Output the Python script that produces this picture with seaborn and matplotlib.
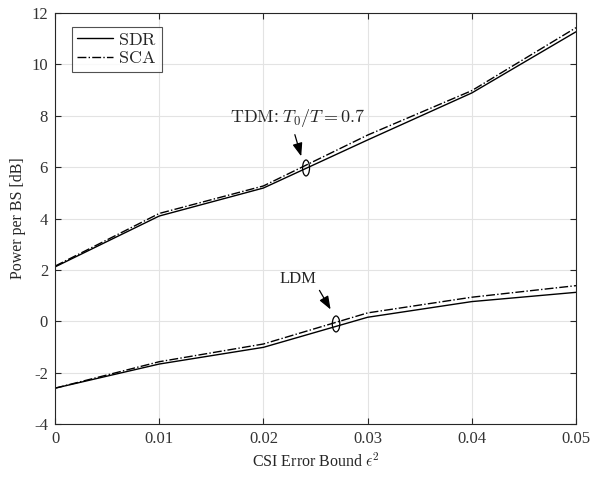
import matplotlib
matplotlib.use("Agg")
import matplotlib.pyplot as plt
import seaborn as sns
import pandas as pd
from matplotlib.patches import Ellipse

eps2 = [0.0, 0.01, 0.02, 0.03, 0.04, 0.05]
tdm_sdr = [2.12, 4.10, 5.19, 7.06, 8.89, 11.27]
tdm_sca = [2.15, 4.20, 5.27, 7.25, 8.98, 11.43]
ldm_sdr = [-2.60, -1.66, -1.01, 0.16, 0.77, 1.13]
ldm_sca = [-2.60, -1.57, -0.88, 0.33, 0.94, 1.39]

xticks = [0, 0.01, 0.02, 0.03, 0.04, 0.05]
xticklabels = ["0", "0.01", "0.02", "0.03", "0.04", "0.05"]
yticks = [-4, -2, 0, 2, 4, 6, 8, 10, 12]

sns.set_style("whitegrid")
plt.rcParams['font.family'] = ['Liberation Serif', 'DejaVu Serif']
plt.rcParams['mathtext.fontset'] = 'cm'
plt.rcParams['axes.unicode_minus'] = False

fig = plt.figure(figsize=(5.92, 4.82), dpi=100)
ax = fig.add_axes([0.093, 0.120, 0.880, 0.853])

df = pd.DataFrame({
    "x": eps2 * 4,
    "y": tdm_sdr + tdm_sca + ldm_sdr + ldm_sca,
    "method": ["SDR"] * 6 + ["SCA"] * 6 + ["SDR"] * 6 + ["SCA"] * 6,
    "scheme": ["TDM"] * 12 + ["LDM"] * 12,
})

for scheme in ["TDM", "LDM"]:
    for method, ls in [("SDR", "-"), ("SCA", "-.")]:
        sub = df[(df.scheme == scheme) & (df.method == method)]
        sns.lineplot(data=sub, x="x", y="y", ax=ax, color="black", lw=1.0,
                     linestyle=ls,
                     label=r"$\mathrm{%s}$" % method if scheme == "TDM" else None,
                     legend=False)

ax.set_xlim(0, 0.05)
ax.set_ylim(-4, 12)
ax.set_xticks(xticks)
ax.set_xticklabels(xticklabels)
ax.set_yticks(yticks)
ax.grid(True, color="#e3e3e3", lw=0.8)
for s in ax.spines.values():
    s.set_color("#262626")
    s.set_linewidth(0.8)
ax.tick_params(direction="in", length=4, top=True, right=True, labelsize=12,
               colors="#262626", labelcolor="#333333", width=0.8,
               bottom=True, left=True, pad=5)
ax.set_xlabel(r"CSI Error Bound $\epsilon^2$", fontsize=11.5, color="#262626")
ax.set_ylabel("Power per BS [dB]", fontsize=11.5, color="#262626")

# annotations
ax.add_patch(Ellipse((0.02409, 5.97), 0.00067, 0.62, fill=False, ec="black", lw=0.9))
ax.add_patch(Ellipse((0.02697, -0.10), 0.00072, 0.62, fill=False, ec="black", lw=0.9))
astyle = "-|>,head_width=0.3,head_length=0.8"
ax.annotate("", xy=(0.0237, 6.32), xytext=(0.02294, 7.37),
            arrowprops=dict(arrowstyle=astyle, color="black", lw=0.9, mutation_scale=10))
ax.annotate("", xy=(0.02658, 0.37), xytext=(0.02524, 1.30),
            arrowprops=dict(arrowstyle=astyle, color="black", lw=0.9, mutation_scale=10))
ax.text(0.02327, 7.91, r"$\mathrm{TDM}$: $T_0/T = 0.7$", ha="center", va="center", fontsize=13)
ax.text(0.02332, 1.65, "LDM", ha="center", va="center", fontsize=12)

leg = ax.legend(loc="upper left", fontsize=13, frameon=True, fancybox=False,
                edgecolor="#262626", handlelength=2.0, borderpad=0.25,
                labelspacing=0.1, handletextpad=0.3, borderaxespad=0,
                bbox_to_anchor=(0.033, 0.966))
leg.get_frame().set_linewidth(0.8)

fig.savefig("out.png", dpi=100)
